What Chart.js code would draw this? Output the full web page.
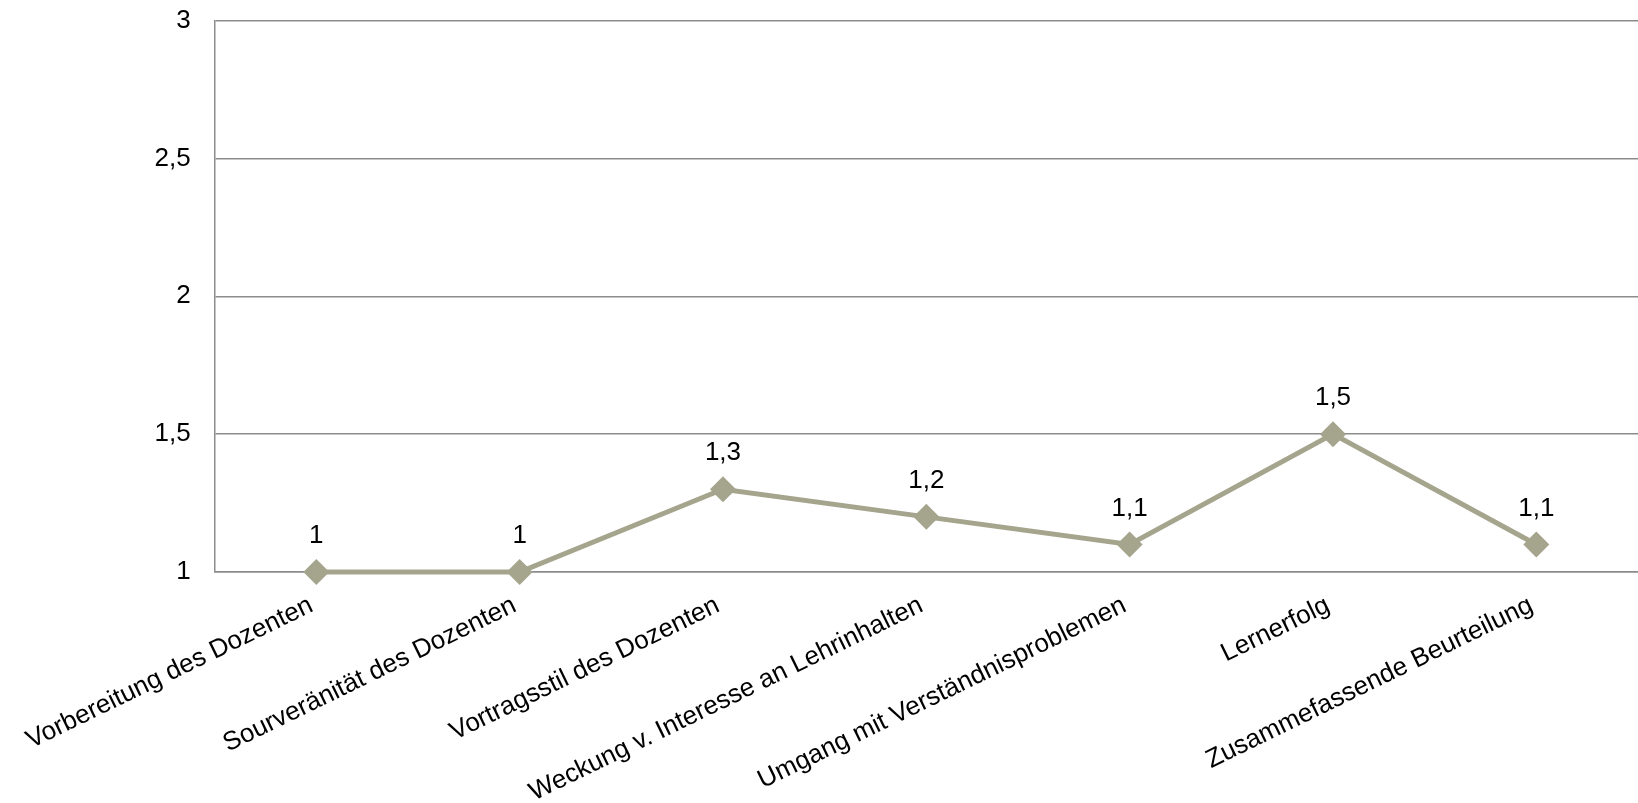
<!DOCTYPE html>
<html>
<head>
<meta charset="utf-8">
<script src="https://cdn.jsdelivr.net/npm/chart.js@4/dist/chart.umd.min.js"></script>
<style>
    html, body { margin: 0; padding: 0; background: #fff; }
    #wrap { width: 1638px; height: 803px; position: relative; }
</style>
</head>
<body>
<div id="wrap"><canvas id="chartBewertung"></canvas></div>
<script>
// ====== DATA ======
const categories = [
    'Vorbereitung des Dozenten',
    'Sourveränität des Dozenten',
    'Vortragsstil des Dozenten',
    'Weckung v. Interesse an Lehrinhalten',
    'Umgang mit Verständnisproblemen',
    'Lernerfolg',
    'Zusammefassende Beurteilung'
];
const werte = [1, 1, 1.3, 1.2, 1.1, 1.5, 1.1];
const yTicks = [1, 1.5, 2, 2.5, 3];

const COLORS = {
    linie: '#A5A58E',
    gitter: '#8C8C8C',
    text:  '#000000',
};
const FONT = '"Liberation Sans", Arial, sans-serif';

const komma = v => String(v).replace('.', ',');

// Werte über den Punkten
const valueLabels = {
    id: 'valueLabels',
    afterDatasetsDraw(chart) {
        const ctx = chart.ctx;
        const meta = chart.getDatasetMeta(0);
        ctx.save();
        ctx.font = '26px ' + FONT;
        ctx.fillStyle = COLORS.text;
        ctx.textAlign = 'center';
        ctx.textBaseline = 'middle';
        meta.data.forEach((pt, i) => {
            ctx.fillText(komma(werte[i]), pt.x, pt.y - 36);
        });
        ctx.restore();
    }
};

new Chart(document.getElementById('chartBewertung'), {
    type: 'line',
    data: {
        labels: categories,
        datasets: [{
            data: werte,
            borderColor: COLORS.linie,
            backgroundColor: COLORS.linie,
            borderWidth: 5,
            pointStyle: 'rectRot',
            pointRadius: 13,
            pointHoverRadius: 13,
            pointBackgroundColor: COLORS.linie,
            pointBorderWidth: 0,
            tension: 0,
            fill: false,
            clip: false,
        }]
    },
    options: {
        responsive: true,
        maintainAspectRatio: false,
        animation: false,
        layout: { autoPadding: false, padding: { top: 4, right: 0, left: 0, bottom: 0 } },
        plugins: {
            legend: { display: false },
            tooltip: { enabled: false }
        },
        scales: {
            y: {
                min: 1,
                max: 3,
                afterBuildTicks: axis => { axis.ticks = yTicks.map(v => ({ value: v })); },
                afterFit: axis => { axis.width = 211; },
                ticks: {
                    color: COLORS.text,
                    padding: 5,
                    font: { family: FONT, size: 26 },
                    callback: v => komma(v)
                },
                grid: { color: COLORS.gitter, lineWidth: 1.5, drawTicks: true, tickLength: 19, tickColor: 'rgba(0,0,0,0)' },
                border: { color: COLORS.gitter, width: 1.5 }
            },
            x: {
                offset: true,
                afterFit: axis => { axis.height = 231; },
                ticks: {
                    color: COLORS.text,
                    minRotation: 26,
                    maxRotation: 26,
                    autoSkip: false,
                    padding: 18,
                    labelOffset: -5,
                    font: { family: FONT, size: 26 }
                },
                grid: { display: false, drawTicks: false },
                border: { color: COLORS.gitter, width: 1.5 }
            }
        }
    },
    plugins: [valueLabels]
});
</script>
</body>
</html>
